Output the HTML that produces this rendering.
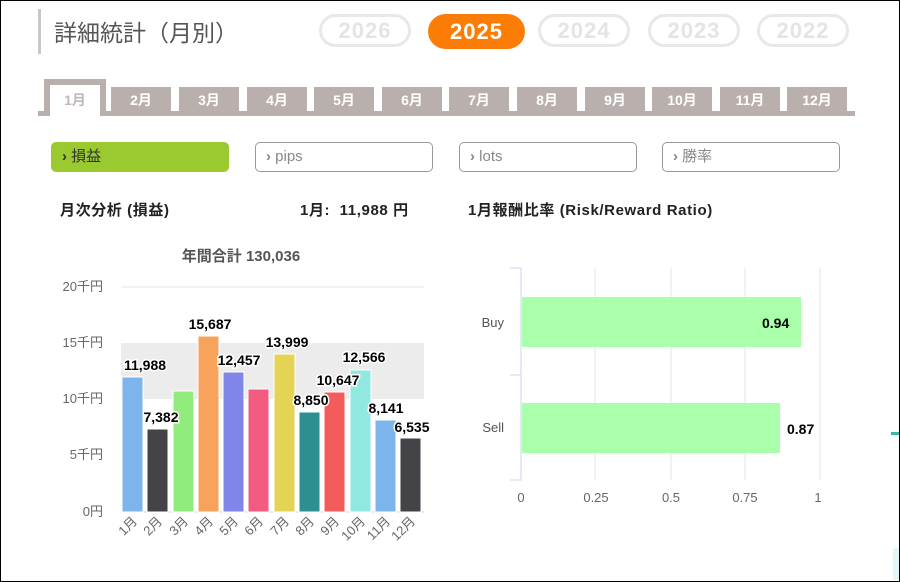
<!DOCTYPE html>
<html><head><meta charset="utf-8"><style>
body{margin:0;width:900px;height:582px;overflow:hidden;background:#fff;font-family:"Liberation Sans","Noto Sans CJK JP",sans-serif}
.frame{position:absolute;left:0;top:0;width:898px;height:580px;border:1px solid #000}
.a{position:absolute}
.yr{position:absolute;top:14px;width:92px;height:33px;border:3px solid #e8e8e8;border-radius:18px;box-sizing:border-box;color:#e4e4e4;font-weight:bold;font-size:22px;text-align:center;line-height:28px;letter-spacing:1px}
.tab{position:absolute;top:87px;width:60px;height:24px;background:#b9b0ae;color:#fff;font-weight:bold;font-size:14px;text-align:center;line-height:26px}
.btn{position:absolute;top:142px;width:178px;height:30px;border:1px solid #999;border-radius:5px;box-sizing:border-box;font-size:15px;line-height:28px;padding-left:10px;color:#888}
.h{position:absolute;top:199px;font-size:15px;font-weight:bold;color:#222;letter-spacing:0.6px}
</style></head><body>
<div class="frame"></div>
<div class="a" style="left:38px;top:9px;width:3px;height:45px;background:#c8c8c8"></div>
<div class="a" style="left:54px;top:14px;font-size:23px;color:#555">詳細統計（月別）</div>
<div class="yr" style="left:319px">2026</div>
<div class="a" style="left:428px;top:14px;width:97px;height:35px;border-radius:18px;background:#fb7d06;color:#fff;font-weight:bold;font-size:22px;text-align:center;line-height:35px;letter-spacing:1px">2025</div>
<div class="yr" style="left:538px">2024</div>
<div class="yr" style="left:648px">2023</div>
<div class="yr" style="left:757px">2022</div>
<div class="a" style="left:38px;top:111px;width:817px;height:5px;background:#b9b0ae"></div>
<div class="a" style="left:44px;top:79px;width:62px;height:37px;background:#b9b0ae"></div>
<div class="a" style="left:50px;top:85px;width:50px;height:32px;background:#fff;color:#c0b8b6;font-weight:bold;font-size:14px;text-align:center;line-height:30px">1月</div>
<div class="tab" style="left:111px">2月</div><div class="tab" style="left:179px">3月</div><div class="tab" style="left:247px">4月</div><div class="tab" style="left:314px">5月</div><div class="tab" style="left:382px">6月</div><div class="tab" style="left:449px">7月</div><div class="tab" style="left:517px">8月</div><div class="tab" style="left:585px">9月</div><div class="tab" style="left:652px">10月</div><div class="tab" style="left:720px">11月</div><div class="tab" style="left:787px">12月</div>
<div class="btn" style="left:51px;background:#9ac930;border-color:#9ac930;color:#333"><b>›</b> 損益</div>
<div class="btn" style="left:255px"><b>›</b> pips</div>
<div class="btn" style="left:459px"><b>›</b> lots</div>
<div class="btn" style="left:662px"><b>›</b> 勝率</div>
<div class="h" style="left:60px">月次分析 (損益)</div>
<div class="h" style="left:300px">1月:&nbsp; 11,988 円</div>
<div class="h" style="left:468px">1月報酬比率 (Risk/Reward Ratio)</div>
<svg class="a" style="left:0;top:0" width="900" height="582" font-family="Liberation Sans, Noto Sans CJK JP, sans-serif">
<text x="241" y="261" font-size="15" font-weight="bold" fill="#555" text-anchor="middle">年間合計 130,036</text>
<rect x="121" y="343" width="303" height="56" fill="#ececec"/>
<line x1="121" y1="287" x2="424" y2="287" stroke="#e6e6e6"/>
<line x1="121" y1="512" x2="424" y2="512" stroke="#ccd6eb"/>
<g font-size="13" fill="#666" text-anchor="end">
<text x="103" y="291">20千円</text><text x="103" y="347">15千円</text><text x="103" y="403">10千円</text><text x="103" y="459">5千円</text><text x="103" y="516">0円</text></g>
<g stroke="#fff" stroke-width="1">
<rect x="122" y="377" width="21" height="135" fill="#7cb5ec"/>
<rect x="147" y="429" width="21" height="83" fill="#434348"/>
<rect x="173" y="391" width="21" height="121" fill="#90ed7d"/>
<rect x="198" y="336" width="21" height="176" fill="#f7a35c"/>
<rect x="223" y="372" width="21" height="140" fill="#8085e9"/>
<rect x="248" y="389" width="21" height="123" fill="#f15c80"/>
<rect x="274" y="354" width="21" height="158" fill="#e4d354"/>
<rect x="299" y="412" width="21" height="100" fill="#2b908f"/>
<rect x="324" y="392" width="21" height="120" fill="#f45b5b"/>
<rect x="350" y="370" width="21" height="142" fill="#91e8e1"/>
<rect x="375" y="420" width="21" height="92" fill="#7cb5ec"/>
<rect x="400" y="438" width="21" height="74" fill="#434348"/></g>
<g font-size="14" font-weight="bold" fill="#000" stroke="#fff" stroke-width="3" paint-order="stroke" text-anchor="middle">
<text x="145" y="370">11,988</text><text x="161" y="422">7,382</text><text x="210" y="329">15,687</text><text x="239" y="365">12,457</text><text x="287" y="347">13,999</text><text x="311" y="405">8,850</text><text x="338" y="385">10,647</text><text x="364" y="362">12,566</text><text x="386" y="413">8,141</text><text x="412" y="432">6,535</text></g>
<g font-size="13" fill="#666" text-anchor="end">
<text transform="translate(138,522) rotate(-45)">1月</text><text transform="translate(163,522) rotate(-45)">2月</text><text transform="translate(189,522) rotate(-45)">3月</text><text transform="translate(214,522) rotate(-45)">4月</text><text transform="translate(239,522) rotate(-45)">5月</text><text transform="translate(264,522) rotate(-45)">6月</text><text transform="translate(290,522) rotate(-45)">7月</text><text transform="translate(315,522) rotate(-45)">8月</text><text transform="translate(340,522) rotate(-45)">9月</text><text transform="translate(366,522) rotate(-45)">10月</text><text transform="translate(391,522) rotate(-45)">11月</text><text transform="translate(416,522) rotate(-45)">12月</text></g>
<g stroke="#e6e6e6"><line x1="595" y1="268" x2="595" y2="480"/><line x1="671" y1="268" x2="671" y2="480"/><line x1="745" y1="268" x2="745" y2="480"/><line x1="820" y1="268" x2="820" y2="480"/></g>
<path d="M510 268H521V480H510M510 375H521" fill="none" stroke="#ccd6eb"/>
<rect x="522" y="297" width="279" height="50" fill="#aaffaa"/>
<rect x="522" y="403" width="258" height="50" fill="#aaffaa"/>
<g font-size="13" fill="#555" text-anchor="end"><text x="504" y="327">Buy</text><text x="504" y="432">Sell</text></g>
<g font-size="14" font-weight="bold" fill="#000"><text x="762" y="328">0.94</text><text x="787" y="434">0.87</text></g>
<g font-size="13" fill="#666" text-anchor="middle"><text x="521" y="502">0</text><text x="596" y="502">0.25</text><text x="671" y="502">0.5</text><text x="745" y="502">0.75</text><text x="818" y="502">1</text></g>
<rect x="891" y="432" width="8" height="3" fill="#3bb8a8"/>
<rect x="893" y="548" width="6" height="32" fill="#e0f8fa"/>
</svg>
</body></html>
